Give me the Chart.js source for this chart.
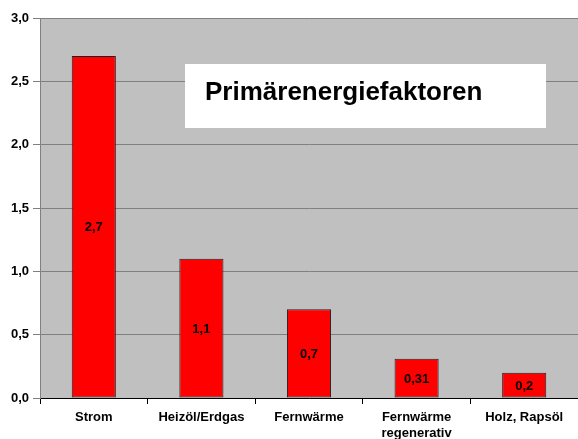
<!DOCTYPE html>
<html>
<head>
    <meta charset="utf-8">
    <style>
        body { margin: 0; background: white; overflow: hidden; }
    </style>
    <script src="https://cdn.jsdelivr.net/npm/chart.js"></script>
</head>
<body>
    <canvas id="chart" width="578" height="439"></canvas>
    <script>
        const categories = ["Strom", "Heizöl/Erdgas", "Fernwärme", ["Fernwärme", "regenerativ"], "Holz, Rapsöl"];
        const values = [2.7, 1.1, 0.7, 0.31, 0.2];
        const valueLabels = ["2,7", "1,1", "0,7", "0,31", "0,2"];
        const titleText = "Primärenergiefaktoren";

        const fontFamily = "'Liberation Sans', Arial, sans-serif";

        // grauer Hintergrund der Zeichenfläche
        const plotBackground = {
            id: "plotBackground",
            beforeDraw(chart) {
                const a = chart.chartArea;
                const ctx = chart.ctx;
                ctx.save();
                ctx.fillStyle = "#c0c0c0";
                ctx.fillRect(a.left, a.top, a.right - a.left, a.bottom - a.top);
                ctx.restore();
            }
        };

        // Werte mitten in den Balken + Titelkasten
        const extras = {
            id: "extras",
            afterDatasetsDraw(chart) {
                const ctx = chart.ctx;
                const meta = chart.getDatasetMeta(0);
                ctx.save();
                ctx.fillStyle = "#000";
                ctx.font = "bold 13px " + fontFamily;
                ctx.textAlign = "center";
                ctx.textBaseline = "middle";
                meta.data.forEach((bar, i) => {
                    ctx.fillText(valueLabels[i], bar.x, (bar.y + bar.base) / 2 + 1);
                });
                ctx.restore();
            },
            afterDraw(chart) {
                const a = chart.chartArea;
                const ctx = chart.ctx;
                ctx.save();
                ctx.fillStyle = "#fff";
                ctx.fillRect(a.left + 145, a.top + 46, 361, 64);
                ctx.fillStyle = "#000";
                ctx.font = "bold 26px " + fontFamily;
                ctx.textBaseline = "alphabetic";
                ctx.fillText(titleText, a.left + 165, a.top + 82);
                ctx.restore();
            }
        };

        new Chart(document.getElementById("chart"), {
            type: "bar",
            data: {
                labels: categories,
                datasets: [{
                    data: values,
                    backgroundColor: "#ff0000",
                    borderColor: "#202020",
                    borderWidth: 1,
                    borderSkipped: false,
                    categoryPercentage: 1,
                    barPercentage: 0.41
                }]
            },
            options: {
                responsive: false,
                animation: false,
                layout: { padding: { top: 18, left: 0, right: 0, bottom: 0 } },
                plugins: {
                    legend: { display: false },
                    tooltip: { enabled: false }
                },
                scales: {
                    x: {
                        afterFit(scale) { scale.height = 41; },
                        grid: {
                            offset: true,
                            drawOnChartArea: false,
                            color: "#000",
                            tickLength: 6
                        },
                        border: { color: "#000" },
                        ticks: {
                            color: "#000",
                            padding: 6,
                            maxRotation: 0,
                            autoSkip: false,
                            font: { family: fontFamily, size: 13, weight: "bold", lineHeight: 1.2 }
                        }
                    },
                    y: {
                        min: 0,
                        max: 3,
                        afterFit(scale) { scale.width = 40; },
                        grid: {
                            color: "#808080",
                            tickLength: 7
                        },
                        border: { color: "#808080" },
                        ticks: {
                            stepSize: 0.5,
                            color: "#000",
                            padding: 4,
                            font: { family: fontFamily, size: 13, weight: "bold" },
                            callback: (v) => v.toFixed(1).replace(".", ",")
                        }
                    }
                }
            },
            plugins: [plotBackground, extras]
        });
    </script>
</body>
</html>
